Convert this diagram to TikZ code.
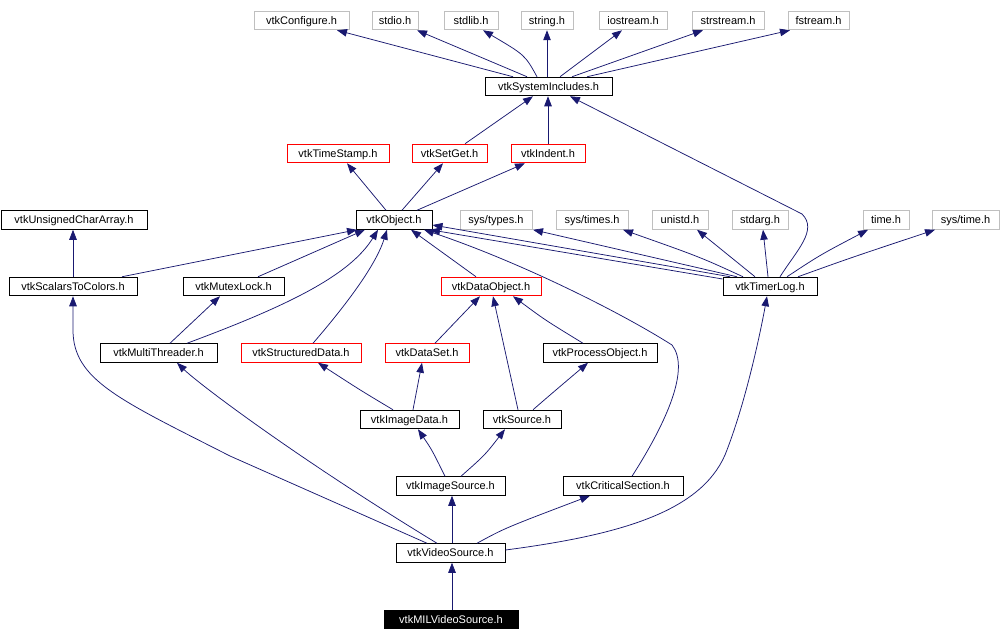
\documentclass[tikz,border=0pt]{standalone}
\usepackage{fontspec}
\setmainfont{Liberation Sans}
\usetikzlibrary{arrows.meta,calc}
\definecolor{edgeblue}{RGB}{25,25,112}
\definecolor{boxgray}{RGB}{191,191,191}
\begin{document}
\begin{tikzpicture}[x=1pt,y=-1pt,
  box/.style={draw, line width=1pt, minimum height=18.5pt, inner sep=0pt, text height=8pt, text depth=0.5pt, font=\fontsize{11}{13}\selectfont},
  blk/.style={box, draw=black},
  red/.style={box, draw=red},
  gry/.style={box, draw=boxgray},
  sel/.style={box, draw=black, fill=black, text=white},
  edge/.style={draw=edgeblue, line width=0.75pt, -{Triangle[length=10pt,width=7.5pt]}}
]
\useasboundingbox (0,0) rectangle (1001,642);
% row 1
\node[gry, minimum width=95pt] (cfg) at (301.5,20.5) {vtkConfigure.h};
\node[gry, minimum width=46pt] (stdio) at (395,20.5) {stdio.h};
\node[gry, minimum width=54pt] (stdlib) at (471,20.5) {stdlib.h};
\node[gry, minimum width=52pt] (string) at (547,20.5) {string.h};
\node[gry, minimum width=68pt] (iostream) at (633,20.5) {iostream.h};
\node[gry, minimum width=72pt] (strstream) at (728,20.5) {strstream.h};
\node[gry, minimum width=61pt] (fstream) at (818.5,20.5) {fstream.h};
% row 2
\node[blk, minimum width=127pt] (sysinc) at (548.5,86.5) {vtkSystemIncludes.h};
% row 3
\node[red, minimum width=102pt] (timestamp) at (338,153.5) {vtkTimeStamp.h};
\node[red, minimum width=75pt] (setget) at (449.5,153.5) {vtkSetGet.h};
\node[red, minimum width=74pt] (indent) at (548,153.5) {vtkIndent.h};
% row 4
\node[blk, minimum width=146pt] (uca) at (74,220) {vtkUnsignedCharArray.h};
\node[blk, minimum width=76pt] (object) at (394,220) {vtkObject.h};
\node[gry, minimum width=72pt] (systypes) at (496,220) {sys/types.h};
\node[gry, minimum width=72pt] (systimes) at (592,220) {sys/times.h};
\node[gry, minimum width=56pt] (unistd) at (680,220) {unistd.h};
\node[gry, minimum width=56pt] (stdarg) at (760,220) {stdarg.h};
\node[gry, minimum width=46pt] (time) at (886,220) {time.h};
\node[gry, minimum width=67pt] (systime) at (965.5,220) {sys/time.h};
% row 5
\node[blk, minimum width=128pt] (s2c) at (73,286.5) {vtkScalarsToColors.h};
\node[blk, minimum width=101pt] (mutex) at (233.5,286.5) {vtkMutexLock.h};
\node[red, minimum width=100pt] (dataobj) at (491,286.5) {vtkDataObject.h};
\node[blk, minimum width=94pt] (timerlog) at (770,286.5) {vtkTimerLog.h};
% row 6
\node[blk, minimum width=117pt] (multi) at (158.5,353) {vtkMultiThreader.h};
\node[red, minimum width=120pt] (structured) at (301,353) {vtkStructuredData.h};
\node[red, minimum width=84pt] (dataset) at (427,353) {vtkDataSet.h};
\node[blk, minimum width=114pt] (procobj) at (600,353) {vtkProcessObject.h};
% row 7
\node[blk, minimum width=99pt] (imagedata) at (409.5,419.5) {vtkImageData.h};
\node[blk, minimum width=78pt] (source) at (522,419.5) {vtkSource.h};
% row 8
\node[blk, minimum width=109pt] (imgsrc) at (450.5,486) {vtkImageSource.h};
\node[blk, minimum width=120pt] (critical) at (623,486) {vtkCriticalSection.h};
% row 9
\node[blk, minimum width=109pt] (video) at (450.5,553) {vtkVideoSource.h};
% row 10
\node[sel, minimum width=134pt] (mil) at (451,619.5) {vtkMILVideoSource.h};

% edges from vtkSystemIncludes
\draw[edge] ([xshift=-35.5pt]sysinc.north) -- ([xshift=35.5pt]cfg.south);
\draw[edge] ([xshift=-21.5pt]sysinc.north) -- ([xshift=22pt]stdio.south);
\draw[edge] ([xshift=-11.5pt]sysinc.north) .. controls (525,55) .. ([xshift=12pt]stdlib.south);
\draw[edge] ([xshift=-1.5pt]sysinc.north) -- (string.south);
\draw[edge] ([xshift=11.5pt]sysinc.north) -- ([xshift=-11pt]iostream.south);
\draw[edge] ([xshift=23.5pt]sysinc.north) -- ([xshift=-25pt]strstream.south);
\draw[edge] ([xshift=38.5pt]sysinc.north) -- ([xshift=-28.5pt]fstream.south);
% into vtkSystemIncludes
\draw[edge] ([xshift=15.5pt]setget.north) -- ([xshift=-15.5pt]sysinc.south);
\draw[edge] (indent.north) -- ([xshift=-0.5pt]sysinc.south);
\draw[edge] ([xshift=10pt]timerlog.north) .. controls (797,250) and (818,230) .. (802,214) -- ([xshift=21.5pt]sysinc.south);
% vtkObject parents
\draw[edge] ([xshift=-8pt]object.north) -- ([xshift=9pt]timestamp.south);
\draw[edge] ([xshift=8pt]object.north) -- ([xshift=-6.5pt]setget.south);
\draw[edge] ([xshift=23pt]object.north) -- ([xshift=-23pt]indent.south);
% into vtkObject
\draw[edge] (s2c.north) -- ([xshift=-1pt]uca.south);
\draw[edge] ([xshift=49pt]s2c.north) -- ([xshift=-37pt]object.south);
\draw[edge] ([xshift=24.5pt]mutex.north) -- ([xshift=-29pt]object.south);
\draw[edge] ([xshift=11.5pt]multi.north) -- ([xshift=-13.5pt]mutex.south);
\draw[edge] ([xshift=28.5pt]multi.north) .. controls (290,305) and (350,275) .. ([xshift=-16pt]object.south);
\draw[edge] ([xshift=12pt]structured.north) .. controls (340,312) and (375,268) .. ([xshift=-7pt]object.south);
\draw[edge] ([xshift=-15pt]dataobj.north) -- ([xshift=17pt]object.south);
\draw[edge] ([xshift=9pt]critical.north) .. controls (668,420) and (690,368) .. (672,345) .. controls (620,312) and (520,262) .. ([xshift=30pt]object.south);
\draw[edge] ([xshift=-40pt]timerlog.north) -- ([yshift=-5pt]object.east);
\draw[edge] ([yshift=7.5pt]timerlog.west) -- ([xshift=36pt]object.south);
% vtkTimerLog parents
\draw[edge] ([xshift=-33pt]timerlog.north) -- ([xshift=37pt]systypes.south);
\draw[edge] ([xshift=-27pt]timerlog.north) .. controls (700,257) .. ([xshift=31pt]systimes.south);
\draw[edge] ([xshift=-15pt]timerlog.north) -- ([xshift=17pt]unistd.south);
\draw[edge] ([xshift=-2pt]timerlog.north) -- ([xshift=3pt]stdarg.south);
\draw[edge] ([xshift=17pt]timerlog.north) .. controls (820,255) .. ([xshift=-18pt]time.south);
\draw[edge] ([xshift=28pt]timerlog.north) .. controls (850,258) .. ([xshift=-30.5pt]systime.south);
% data pipeline
\draw[edge] ([xshift=8pt]dataset.north) -- ([xshift=-11pt]dataobj.south);
\draw[edge] ([xshift=-4pt]source.north) -- ([xshift=2pt]dataobj.south);
\draw[edge] ([xshift=-17pt]procobj.north) .. controls (545,320) .. ([xshift=22pt]dataobj.south);
\draw[edge] ([xshift=11pt]source.north) .. controls (550,395) .. ([xshift=-12pt]procobj.south);
\draw[edge] ([xshift=-16.5pt]imagedata.north) .. controls (360,390) .. ([xshift=17pt]structured.south);
\draw[edge] ([xshift=3.5pt]imagedata.north) -- ([xshift=-5pt]dataset.south);
\draw[edge] ([xshift=-5.5pt]imgsrc.north) .. controls (432,450) .. ([xshift=8.5pt]imagedata.south);
\draw[edge] ([xshift=10.5pt]imgsrc.north) .. controls (485,455) .. ([xshift=-17pt]source.south);
% vtkVideoSource
\draw[edge] ([xshift=1.5pt]video.north) -- ([xshift=1.5pt]imgsrc.south);
\draw[edge] ([xshift=26.5pt]video.north) .. controls (505,528) .. ([xshift=-33pt]critical.south);
\draw[edge] ([yshift=3pt]video.east) .. controls (620,535) and (700,512) .. (725,455) .. controls (745,405) and (760,335) .. ([xshift=-3pt]timerlog.south);
\draw[edge] ([xshift=-13.5pt]video.north) .. controls (300,460) and (200,385) .. ([xshift=18.5pt]multi.south);
\draw[edge] ([xshift=-23.5pt]video.north) -- (230,456) .. controls (120,400) and (73,380) .. (73,330) -- (s2c.south);
\draw[edge] ([xshift=1pt]mil.north) -- ([xshift=1.5pt]video.south);
\end{tikzpicture}
\end{document}
